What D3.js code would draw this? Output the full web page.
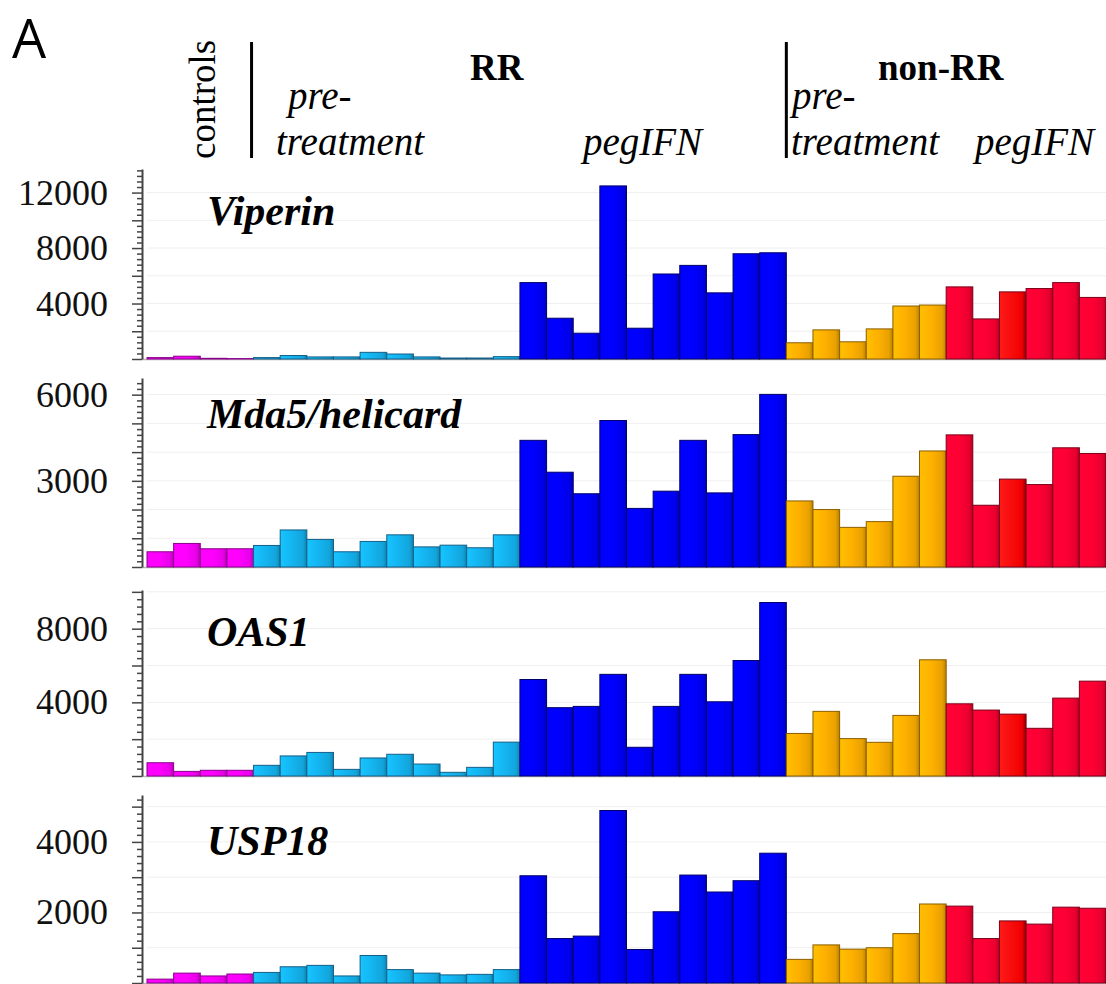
<!DOCTYPE html>
<html>
<head>
<meta charset="utf-8">
<script src="https://cdn.jsdelivr.net/npm/d3@7"></script>
<style>
  html, body { margin: 0; padding: 0; background: #fff; }
  svg { display: block; }
</style>
</head>
<body>
<script>
// groups of samples, left to right
const groups = ["controls", "RR pre-treatment", "RR pegIFN", "non-RR pre-treatment", "non-RR pegIFN"];
const groupSizes = [4, 10, 10, 6, 6];

const genes = ["Viperin", "Mda5/helicard", "OAS1", "USP18"];

// expression per sample (36 bars per gene)
const viperin = [100, 200, 50, 30,
  100, 250, 150, 150, 480, 360, 150, 70, 70, 170,
  5510, 2940, 1860, 12480, 2220, 6130, 6750, 4770, 7590, 7660,
  1170, 2100, 1240, 2170, 3820, 3890,
  5200, 2890, 4840, 5080, 5510, 4440];
const mda5 = [530, 820, 635, 635,
  750, 1290, 960, 530, 890, 1120, 700, 760, 670, 1120,
  4410, 3300, 2550, 5100, 2040, 2640, 4410, 2580, 4610, 6010,
  2300, 2000, 1380, 1580, 3160, 4040,
  4600, 2150, 3060, 2870, 4150, 3950];
const oas1 = [720, 250, 310, 310,
  580, 1090, 1280, 360, 980, 1180, 650, 200, 470, 1840,
  5240, 3710, 3780, 5520, 1560, 3780, 5520, 4030, 6270, 9420,
  2310, 3510, 2030, 1830, 3290, 6310,
  3920, 3580, 3360, 2590, 4230, 5150];
const usp18 = [110, 280, 200, 255,
  300, 460, 500, 200, 780, 380, 280, 230, 245, 380,
  3040, 1260, 1330, 4890, 950, 2020, 3060, 2580, 2900, 3680,
  670, 1080, 960, 1000, 1400, 2240,
  2180, 1260, 1760, 1670, 2150, 2120];
const series = [viperin, mda5, oas1, usp18];

// axis settings per gene
const axisMax = [13700, 6580, 10100, 5330];
const majorStep = [2000, 1000, 2000, 1000];
const labelValues = [[4000, 8000, 12000], [3000, 6000], [4000, 8000], [2000, 4000]];

// styles
const groupColors = ["#ff00ff", "#14b4f0", "#0000ff", "#ffb000", "#ff0033"];
const groupEdges = ["#8a008a", "#145f88", "#00006a", "#8a5e00", "#7a0018"];

const width = 1106, height = 984;
const panels = [
  { top: 169, base: 359, label: 225 },
  { top: 378, base: 567, label: 428 },
  { top: 590, base: 776, label: 646 },
  { top: 795, base: 983, label: 855 }
];
const axisX = 142;
const serif = "'Liberation Serif', 'Times New Roman', serif";

const groupOf = [];
groupSizes.forEach((n, g) => { for (let i = 0; i < n; i++) groupOf.push(g); });

const x = d3.scaleBand()
  .domain(d3.range(groupOf.length))
  .range([147, 1106])
  .padding(0);

const svg = d3.select("body").append("svg")
  .attr("width", width)
  .attr("height", height);

// gradients for the shaded bars
const defs = svg.append("defs");
groupColors.forEach((c, g) => {
  const grad = defs.append("linearGradient")
    .attr("id", "grad" + g)
    .attr("x1", "0%").attr("x2", "100%").attr("y1", "0%").attr("y2", "0%");
  grad.append("stop").attr("offset", "0%").attr("stop-color", d3.color(c).brighter(0.25));
  grad.append("stop").attr("offset", "45%").attr("stop-color", c);
  grad.append("stop").attr("offset", "85%").attr("stop-color", d3.color(c).darker(0.25));
  grad.append("stop").attr("offset", "100%").attr("stop-color", d3.color(c).darker(0.9));
});
{
  const grad = defs.append("linearGradient")
    .attr("id", "gradRed")
    .attr("x1", "0%").attr("x2", "100%");
  grad.append("stop").attr("offset", "0%").attr("stop-color", "#ff1a1a");
  grad.append("stop").attr("offset", "85%").attr("stop-color", "#f00000");
  grad.append("stop").attr("offset", "100%").attr("stop-color", "#8a0000");
}

// header
svg.append("text")
  .attr("x", 12).attr("y", 58)
  .attr("font-family", "'Open Sans', 'Liberation Sans', Arial, sans-serif")
  .attr("font-size", 54)
  .text("A");

svg.append("text")
  .attr("transform", "translate(215,159) rotate(-90)")
  .attr("font-family", serif)
  .attr("font-size", 37)
  .text("controls");

[x(4) - 2, x(24)].forEach(lx => {
  svg.append("line")
    .attr("x1", lx).attr("x2", lx)
    .attr("y1", 42).attr("y2", 158)
    .attr("stroke", "#000").attr("stroke-width", 3);
});

const header = [
  { t: "RR", x: 470, y: 80, bold: true },
  { t: "non-RR", x: 878, y: 80, bold: true },
  { t: "pre-", x: 288, y: 109 },
  { t: "treatment", x: 276, y: 155 },
  { t: "pegIFN", x: 583, y: 155 },
  { t: "pre-", x: 792, y: 109 },
  { t: "treatment", x: 791, y: 155 },
  { t: "pegIFN", x: 975, y: 155 }
];
svg.selectAll("text.head").data(header).enter().append("text")
  .attr("class", "head")
  .attr("x", d => d.x).attr("y", d => d.y)
  .attr("font-family", serif)
  .attr("font-size", d => d.bold ? 37 : 39)
  .attr("font-weight", d => d.bold ? "bold" : "normal")
  .attr("font-style", d => d.bold ? "normal" : "italic")
  .text(d => d.t);

// panels
series.forEach((values, p) => {
  const pan = panels[p];
  const y = d3.scaleLinear().domain([0, axisMax[p]]).range([pan.base, pan.top]);
  const g = svg.append("g");

  const major = d3.range(0, axisMax[p], majorStep[p]);
  const minor = d3.range(0, axisMax[p], majorStep[p] / 5).filter(v => v % majorStep[p] !== 0);

  g.selectAll("line.grid").data(major.slice(1)).enter().append("line")
    .attr("x1", 147).attr("x2", 1106)
    .attr("y1", d => y(d)).attr("y2", d => y(d))
    .attr("stroke", "#efefef").attr("stroke-width", 1);

  g.append("line")
    .attr("x1", axisX).attr("x2", 1106)
    .attr("y1", pan.base + 0.5).attr("y2", pan.base + 0.5)
    .attr("stroke", "#b8b8b8").attr("stroke-width", 1.5);

  g.selectAll("rect.bar").data(values).enter().append("rect")
    .attr("class", "bar")
    .attr("x", (d, i) => x(i))
    .attr("width", x.bandwidth())
    .attr("y", d => y(d))
    .attr("height", d => y(0) - y(d))
    .attr("fill", (d, i) => (groupOf[i] === 4 && i === 32) ? "url(#gradRed)" : "url(#grad" + groupOf[i] + ")")
    .attr("stroke", (d, i) => groupEdges[groupOf[i]])
    .attr("stroke-width", 1);

  const ax = d3.axisLeft(y)
    .tickValues(major)
    .tickSize(10)
    .tickSizeOuter(0)
    .tickPadding(24)
    .tickFormat(d => labelValues[p].includes(d) ? d : "");
  const axg = g.append("g").attr("transform", `translate(${axisX},0)`).call(ax);
  axg.attr("font-family", serif);
  axg.select(".domain").attr("stroke", "#444").attr("stroke-width", 2);
  axg.selectAll(".tick line").attr("stroke", "#444").attr("stroke-width", 1.5);
  axg.selectAll(".tick text")
    .style("font-family", serif)
    .attr("font-size", 36)
    .attr("fill", "#111");

  const axm = d3.axisLeft(y).tickValues(minor).tickSize(5).tickFormat("");
  const axmg = g.append("g").attr("transform", `translate(${axisX},0)`).call(axm);
  axmg.select(".domain").remove();
  axmg.selectAll(".tick line").attr("stroke", "#444").attr("stroke-width", 1.5);

  g.append("text")
    .attr("x", 207).attr("y", pan.label)
    .attr("font-family", serif)
    .attr("font-size", 42)
    .attr("font-weight", "bold")
    .attr("font-style", "italic")
    .text(genes[p]);
});
</script>
</body>
</html>
